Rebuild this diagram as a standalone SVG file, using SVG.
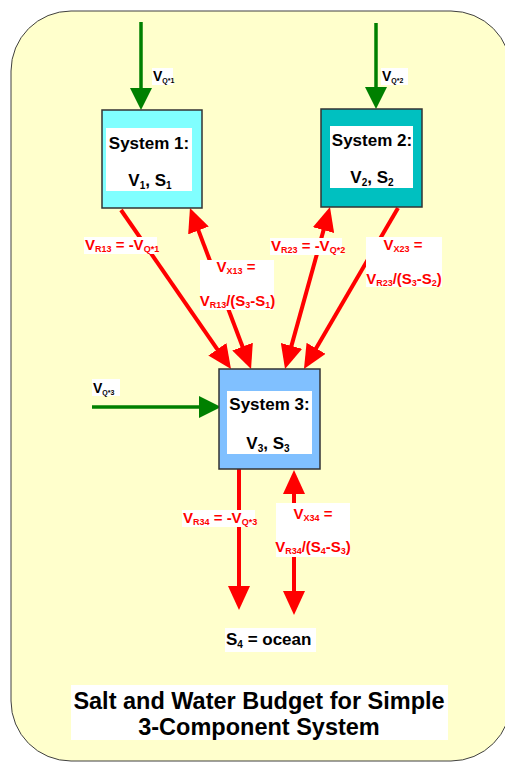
<svg xmlns="http://www.w3.org/2000/svg" width="505" height="763" viewBox="0 0 505 763">
<style>
text{font-family:"Liberation Sans",Arial,sans-serif;font-weight:bold}
.box{stroke:#333;stroke-width:1.5}
.wb{fill:#fff}
.st{font-size:17px;fill:#000;text-anchor:middle}
.rl{font-size:15px;fill:#f00}
.bl{font-size:14px;fill:#000}
.sub{font-size:9px}
.sb2{font-size:7px}
.sb3{font-size:10px}
.red{stroke:#f00;stroke-width:4;fill:none}
.grn{stroke:#008000;stroke-width:3.5;fill:none}
</style>
<defs>
<marker id="rh" markerUnits="userSpaceOnUse" markerWidth="24" markerHeight="22" refX="14" refY="11" orient="auto-start-reverse" viewBox="0 0 24 22"><path d="M0,0 L24,11 L0,22 z" fill="#f00"/></marker>
<marker id="gh" markerUnits="userSpaceOnUse" markerWidth="22" markerHeight="22" refX="14" refY="11" orient="auto" viewBox="0 0 22 22"><path d="M0,0 L22,11 L0,22 z" fill="#008000"/></marker>
</defs>
<rect id="background" x="11" y="11" width="500" height="750" rx="60" ry="60" fill="#FFFFCC" stroke="#404040" stroke-width="1"/>

<g id="connectors">
<line class="grn" x1="141" y1="22" x2="141" y2="102" marker-end="url(#gh)"/>
<line class="grn" x1="376" y1="23" x2="376" y2="101" marker-end="url(#gh)"/>
<line class="grn" x1="92" y1="407" x2="213" y2="407" marker-end="url(#gh)"/>
<line class="red" x1="121" y1="210" x2="225.3" y2="360.8" marker-end="url(#rh)"/>
<line class="red" x1="193.5" y1="217.4" x2="247.5" y2="359.7" marker-start="url(#rh)" marker-end="url(#rh)"/>
<line class="red" x1="327.3" y1="216.6" x2="287.7" y2="359.4" marker-start="url(#rh)" marker-end="url(#rh)"/>
<line class="red" x1="398" y1="208" x2="309" y2="360.4" marker-end="url(#rh)"/>
<line class="red" x1="239" y1="469" x2="239" y2="600" marker-end="url(#rh)"/>
<line class="red" x1="294" y1="480" x2="294" y2="605" marker-start="url(#rh)" marker-end="url(#rh)"/>
</g>

<g id="system1">
<rect class="box" x="102" y="110" width="100" height="98" fill="#80FFFF"/>
<rect class="wb" x="106" y="128" width="86" height="63"/>
<text class="st" x="149" y="149">System 1:</text>
<text class="st" x="150" y="186">V<tspan class="sb3" dy="3">1</tspan><tspan dy="-3">, S</tspan><tspan class="sb3" dy="3">1</tspan></text>
</g>
<g id="system2">
<rect class="box" x="321" y="109" width="101" height="98" fill="#00C0C0"/>
<rect class="wb" x="330" y="126" width="83" height="62"/>
<text class="st" x="372" y="146">System 2:</text>
<text class="st" x="372" y="183">V<tspan class="sb3" dy="3">2</tspan><tspan dy="-3">, S</tspan><tspan class="sb3" dy="3">2</tspan></text>
</g>
<g id="system3">
<rect class="box" x="219" y="369" width="101" height="100" fill="#80C0FF"/>
<rect class="wb" x="227" y="391" width="85" height="63"/>
<text class="st" x="269.5" y="410">System 3:</text>
<text class="st" x="268" y="449">V<tspan class="sb3" dy="3">3</tspan><tspan dy="-3">, S</tspan><tspan class="sb3" dy="3">3</tspan></text>
</g>

<g id="labels">
<g id="lbl-vq1"><rect class="wb" x="152" y="68" width="21" height="17"/><text class="bl" x="153" y="81">V<tspan class="sb2" dy="2">Q*1</tspan></text></g>
<g id="lbl-vq2"><rect class="wb" x="381" y="68" width="27" height="17"/><text class="bl" x="382" y="81">V<tspan class="sb2" dy="2">Q*2</tspan></text></g>
<g id="lbl-vq3"><rect class="wb" x="92" y="379" width="28" height="17"/><text class="bl" x="93" y="393">V<tspan class="sb2" dy="2">Q*3</tspan></text></g>

<g id="lbl-vr13"><rect class="wb" x="84" y="237" width="73" height="17"/><text class="rl" x="85" y="250">V<tspan class="sub" dy="2">R13</tspan><tspan dy="-2"> = -V</tspan><tspan class="sub" dy="2">Q*1</tspan></text></g>
<g id="lbl-vx13"><rect class="wb" x="200" y="260" width="74" height="50"/>
<text class="rl" x="236" y="272" text-anchor="middle">V<tspan class="sub" dy="2">X13</tspan><tspan dy="-2"> =</tspan></text>
<text class="rl" x="237.5" y="306" text-anchor="middle">V<tspan class="sub" dy="2">R13</tspan><tspan dy="-2">/(S</tspan><tspan class="sub" dy="2">3</tspan><tspan dy="-2">-S</tspan><tspan class="sub" dy="2">1</tspan><tspan dy="-2">)</tspan></text></g>

<g id="lbl-vr23"><rect class="wb" x="270" y="238" width="72" height="17"/><text class="rl" x="271" y="251">V<tspan class="sub" dy="2">R23</tspan><tspan dy="-2"> = -V</tspan><tspan class="sub" dy="2">Q*2</tspan></text></g>
<g id="lbl-vx23"><rect class="wb" x="366" y="237" width="76" height="50"/>
<text class="rl" x="403" y="250" text-anchor="middle">V<tspan class="sub" dy="2">X23</tspan><tspan dy="-2"> =</tspan></text>
<text class="rl" x="404" y="284" text-anchor="middle">V<tspan class="sub" dy="2">R23</tspan><tspan dy="-2">/(S</tspan><tspan class="sub" dy="2">3</tspan><tspan dy="-2">-S</tspan><tspan class="sub" dy="2">2</tspan><tspan dy="-2">)</tspan></text></g>

<g id="lbl-vr34"><rect class="wb" x="182" y="510" width="73" height="17"/><text class="rl" x="183" y="523">V<tspan class="sub" dy="2">R34</tspan><tspan dy="-2"> = -V</tspan><tspan class="sub" dy="2">Q*3</tspan></text></g>
<g id="lbl-vx34"><rect class="wb" x="276" y="503" width="74" height="54"/>
<text class="rl" x="313" y="519" text-anchor="middle">V<tspan class="sub" dy="2">X34</tspan><tspan dy="-2"> =</tspan></text>
<text class="rl" x="313" y="552" text-anchor="middle">V<tspan class="sub" dy="2">R34</tspan><tspan dy="-2">/(S</tspan><tspan class="sub" dy="2">4</tspan><tspan dy="-2">-S</tspan><tspan class="sub" dy="2">3</tspan><tspan dy="-2">)</tspan></text></g>
</g>

<g id="ocean">
<rect class="wb" x="225" y="628" width="91" height="24"/>
<text x="226" y="645" style="font-size:17px;fill:#000">S<tspan style="font-size:10px" dy="3">4</tspan><tspan dy="-3"> = ocean</tspan></text>
</g>

<g id="title">
<rect class="wb" x="71" y="685" width="377" height="55"/>
<text x="259" y="709" style="font-size:23.5px;fill:#000;text-anchor:middle">Salt and Water Budget for Simple</text>
<text x="259" y="735" style="font-size:23.5px;fill:#000;text-anchor:middle">3-Component System</text>
</g>
</svg>
